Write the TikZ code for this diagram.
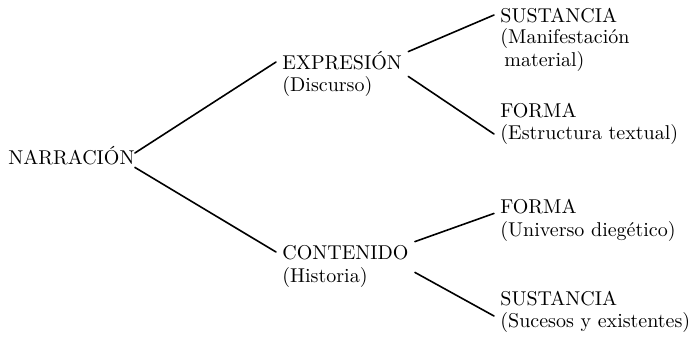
\documentclass[tikz,border=0pt]{standalone}
\begin{document}
\begin{tikzpicture}[x=0.5pt,y=-0.5pt,line cap=round,
    every node/.style={font=\fontsize{10}{11.25}\selectfont, anchor=base west, inner xsep=3pt, inner ysep=1.5pt},
    titulo/.style={text height=7pt, text depth=0pt},
    rama/.style={line width=0.8pt}]
    \useasboundingbox (0,0) rectangle (699,339);

    % the root
    \node[titulo, inner xsep=0pt] (narr) at (8,164) {NARRACIÓN};

    % first level
    \node[titulo] (expr) at (276,69) {EXPRESIÓN};
    \node (expr-sub) at (276,91) {(Discurso)};
    \node[titulo] (cont) at (276,259) {CONTENIDO};
    \node (cont-sub) at (276,282) {(Historia)};

    % second level, under the expresion
    % (the base of a two line node is its last line)
    \node[titulo] (sust1) at (494,22) {SUSTANCIA};
    \node[align=left] (sust1-sub) at (494,66) {(Manifestación\\\hspace{2pt}material)};
    \node[titulo] (forma1) at (494,117) {FORMA};
    \node (forma1-sub) at (494,139) {(Estructura textual)};

    % second level, under the contenido
    \node[titulo] (forma2) at (494,213) {FORMA};
    \node (forma2-sub) at (494,236) {(Universo diegético)};
    \node[titulo] (sust2) at (494,305) {SUSTANCIA};
    \node (sust2-sub) at (494,327) {(Sucesos y existentes)};

    % the branches
    \draw[rama] ([yshift=2pt]narr.east) -- (expr.west);
    \draw[rama] (narr.south east) -- (cont.west);
    \draw[rama] (expr.north east) -- (sust1.west);
    \draw[rama] ([yshift=-2pt]expr.south east) -- (forma1-sub.west);
    \draw[rama] (cont.north east) -- ([yshift=1.5pt]forma2.south west);
    \draw[rama] ([yshift=-5pt]cont.south east) -- ([yshift=3pt]sust2-sub.west);
\end{tikzpicture}
\end{document}
